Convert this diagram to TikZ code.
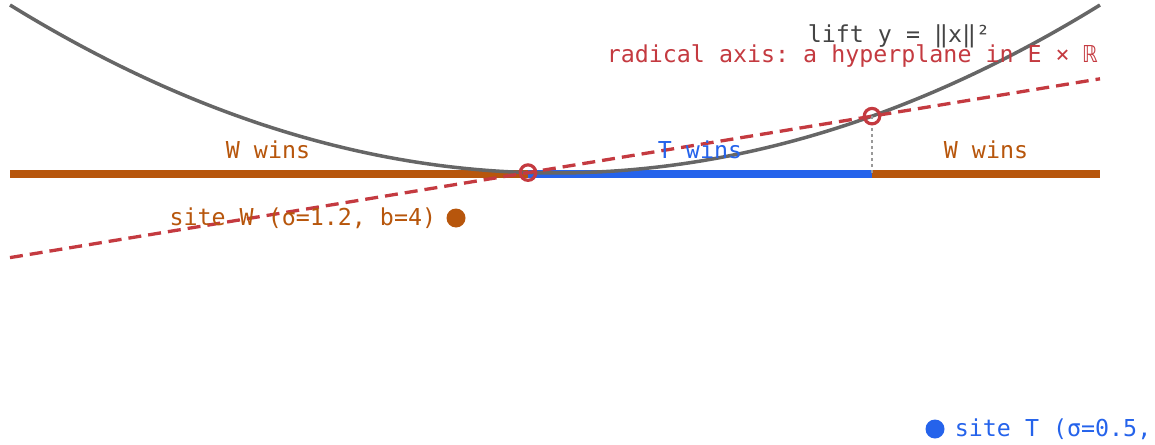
\documentclass[tikz,border=0pt]{standalone}
\usepackage{fontspec}
\setmonofont{DejaVu Sans Mono}
\usepackage{tikz}
\usetikzlibrary{positioning}
\usetikzlibrary{calc}

\definecolor{wcol}{RGB}{183,86,12}
\definecolor{tcol}{RGB}{37,99,235}
\definecolor{axcol}{RGB}{196,58,64}
\definecolor{liftcol}{RGB}{102,102,102}
\definecolor{labcol}{RGB}{68,68,68}

\begin{document}
\begin{tikzpicture}[x=1pt, y=-1pt,
		lbl/.style={font=\ttfamily\fontsize{23.3}{28}\selectfont, inner sep=0pt},
		bar/.style={line width=8pt},
		crossing/.style={circle, draw=axcol, line width=3.2pt, minimum size=15.5pt, inner sep=0pt},
		site/.style={circle, minimum size=19pt, inner sep=0pt}]
			\useasboundingbox (0,0) rectangle (1155,444);

			% Points on the line and where the axis crosses the lift
			\coordinate (left) at (10,173.5);
			\coordinate (right) at (1100,173.5);
			\coordinate (cutL) at (528,173.5);
			\coordinate (cutR) at (872,173.5);
			\coordinate (hitL) at (528,172.59);
			\coordinate (hitR) at (872,116.16);
			\coordinate (axL) at (10,257.6);
			\coordinate (axR) at (1100,78.8);

			% Who wins along the line
			\draw[bar, wcol] (left) -- (cutL);
			\draw[bar, tcol] (cutL) -- (cutR);
			\draw[bar, wcol] (cutR) -- (right);

			% The lift
			\draw[liftcol, line width=3.5pt] plot[domain=-5.45:5.45, samples=80, smooth] ({555+100*\x},{173-5.656*\x*\x});

			% Radical axis
			\draw[axcol, line width=3.3pt, dash pattern=on 13pt off 7pt] (axL) -- (axR);
			\draw[black!40, line width=1.5pt, dash pattern=on 3pt off 3pt] (hitR) -- (cutR);
			\node[crossing] (crossL) at (hitL) {};
			\node[crossing] (crossR) at (hitR) {};

			% Labels
			\node[lbl, text=labcol, anchor=base] (liftlbl) at (899,42) {lift y = ‖x‖²};
			\node[lbl, text=axcol, anchor=base east] (axlbl) at (1098,63) {radical axis: a hyperplane in E × ℝ};
			\node[lbl, text=wcol, anchor=base] (wwinsL) at (268,158) {W wins};
			\node[lbl, text=tcol, anchor=base] (twins) at (700,158) {T wins};
			\node[lbl, text=wcol, anchor=base] (wwinsR) at (986,158) {W wins};

			% Sites
			\node[site, fill=wcol] (siteW) at (456,218) {};
			\node[lbl, text=wcol, left=10pt of siteW] (siteWlbl) {site W (σ=1.2, b=4)};
			\node[site, fill=tcol] (siteT) at (935,429) {};
			\node[lbl, text=tcol, right=10pt of siteT] (siteTlbl) {site T (σ=0.5,};
		\end{tikzpicture}
\end{document}
